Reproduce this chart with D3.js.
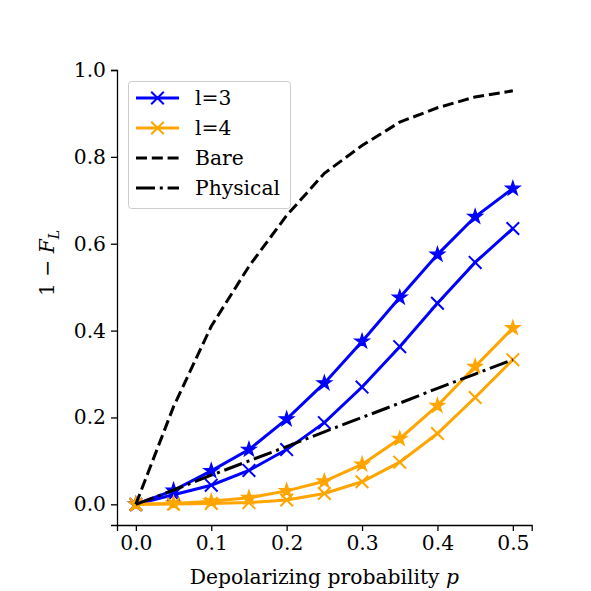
<!DOCTYPE html>
<html>
<head>
<meta charset="utf-8">
<script src="https://cdn.jsdelivr.net/npm/d3@7"></script>
<style>
  body { margin: 0; background: #fff; }
  text { font-family: "DejaVu Serif", serif; }
</style>
</head>
<body>
<script>
// depolarizing probabilities
var pValues = [0, 0.05, 0.1, 0.15, 0.2, 0.25, 0.3, 0.35, 0.4, 0.45, 0.5];

// l=3 (x markers and star markers)
var l3Cross = [0, 0.022, 0.044, 0.078, 0.126, 0.188, 0.27, 0.363, 0.463, 0.557, 0.635];
var l3Star  = [0, 0.032, 0.077, 0.126, 0.196, 0.279, 0.375, 0.476, 0.575, 0.662, 0.727];

// l=4
var l4Cross = [0, 0.0005, 0.002, 0.004, 0.01, 0.025, 0.052, 0.097, 0.163, 0.246, 0.333];
var l4Star  = [0, 0.002, 0.007, 0.015, 0.031, 0.053, 0.092, 0.151, 0.227, 0.317, 0.406];

var bare     = [0, 0.225, 0.41, 0.548, 0.665, 0.762, 0.826, 0.88, 0.913, 0.938, 0.952];
var physical = [0, 0.033, 0.067, 0.1, 0.133, 0.167, 0.2, 0.233, 0.267, 0.3, 0.333];

var xTicks = [0, 0.1, 0.2, 0.3, 0.4, 0.5];
var yTicks = [0, 0.2, 0.4, 0.6, 0.8, 1.0];

var legendItems = ["l=3", "l=4", "Bare", "Physical"];

var width = 591, height = 591;
var fontSize = 20.3;
var lw = 3;

var svg = d3.select("body").append("svg")
  .attr("width", width)
  .attr("height", height);

var xScale = d3.scaleLinear().domain([-0.025, 0.525]).range([117, 531.7]);
var yScale = d3.scaleLinear().domain([-0.0476, 1.0]).range([525, 70]);

// axes
var xAxis = svg.append("g")
  .attr("transform", "translate(0," + 525 + ")")
  .call(d3.axisBottom(xScale).tickValues(xTicks).tickFormat(d3.format(".1f")).tickSizeOuter(0).tickSize(6).tickPadding(5));

var yAxis = svg.append("g")
  .attr("transform", "translate(" + 117 + ",0)")
  .call(d3.axisLeft(yScale).tickValues(yTicks).tickFormat(d3.format(".1f")).tickSizeOuter(0).tickSize(6).tickPadding(5));

[xAxis, yAxis].forEach(function(ax) {
  ax.selectAll("path").attr("stroke", "#000").attr("stroke-width", 1.3);
  ax.selectAll("line").attr("stroke", "#000").attr("stroke-width", 1.3);
  ax.selectAll("text").attr("fill", "#000")
    .style("font-family", "DejaVu Serif")
    .style("font-size", fontSize + "px");
});

// axis labels
svg.append("text")
  .attr("x", xScale(0.25))
  .attr("y", 584)
  .attr("text-anchor", "middle")
  .style("font-size", fontSize + "px")
  .html('Depolarizing probability <tspan font-style="italic">p</tspan>');

svg.append("text")
  .attr("transform", "translate(54," + 263 + ") rotate(-90)")
  .attr("text-anchor", "middle")
  .style("font-size", fontSize + "px")
  .html('1 \u2212 <tspan font-style="italic">F</tspan><tspan font-style="italic" font-size="14px" dy="5">L</tspan>');

var line = d3.line()
  .x(function(d, i) { return xScale(pValues[i]); })
  .y(function(d) { return yScale(d); });

function crossPath(r) {
  return "M" + (-r) + "," + (-r) + "L" + r + "," + r + "M" + (-r) + "," + r + "L" + r + "," + (-r);
}

function drawSeries(values, color, marker) {
  svg.append("path")
    .attr("d", line(values))
    .attr("fill", "none")
    .attr("stroke", color)
    .attr("stroke-width", lw);

  var g = svg.append("g");
  g.selectAll("path")
    .data(values)
    .enter()
    .append("path")
    .attr("transform", function(d, i) {
      return "translate(" + xScale(pValues[i]) + "," + yScale(d) + ")";
    })
    .attr("d", marker == "star" ? d3.symbol().type(d3.symbolStar).size(66)() : crossPath(6.3))
    .attr("fill", marker == "star" ? color : "none")
    .attr("stroke", color)
    .attr("stroke-width", marker == "star" ? 1.2 : 2);
}

drawSeries(l3Cross, "blue", "cross");
drawSeries(l3Star, "blue", "star");
drawSeries(l4Cross, "orange", "cross");
drawSeries(l4Star, "orange", "star");

svg.append("path")
  .attr("d", line(bare))
  .attr("fill", "none")
  .attr("stroke", "#000")
  .attr("stroke-width", lw)
  .attr("stroke-dasharray", "11,4.8");

svg.append("path")
  .attr("d", line(physical))
  .attr("fill", "none")
  .attr("stroke", "#000")
  .attr("stroke-width", lw)
  .attr("stroke-dasharray", "19,4.8,3,4.8");

// legend
var legend = svg.append("g");
legend.append("rect")
  .attr("x", 128.5)
  .attr("y", 81.5)
  .attr("width", 162)
  .attr("height", 127)
  .attr("rx", 3)
  .attr("fill", "#fff")
  .attr("fill-opacity", 0.8)
  .attr("stroke", "#cccccc")
  .attr("stroke-width", 1);

var legendColors = ["blue", "orange", "#000", "#000"];
var legendDash = [null, null, "11,4.8", "19,4.8,3,4.8"];

legendItems.forEach(function(label, i) {
  var y = 98 + i * 30;
  legend.append("line")
    .attr("x1", 136).attr("x2", 179)
    .attr("y1", y).attr("y2", y)
    .attr("stroke", legendColors[i])
    .attr("stroke-width", lw)
    .attr("stroke-dasharray", legendDash[i]);
  if (i < 2) {
    legend.append("path")
      .attr("transform", "translate(157.5," + y + ")")
      .attr("d", crossPath(6.3))
      .attr("fill", "none")
      .attr("stroke", legendColors[i])
      .attr("stroke-width", 2);
  }
  legend.append("text")
    .attr("x", 195)
    .attr("y", y + 7)
    .style("font-size", fontSize + "px")
    .text(label);
});
</script>
</body>
</html>
